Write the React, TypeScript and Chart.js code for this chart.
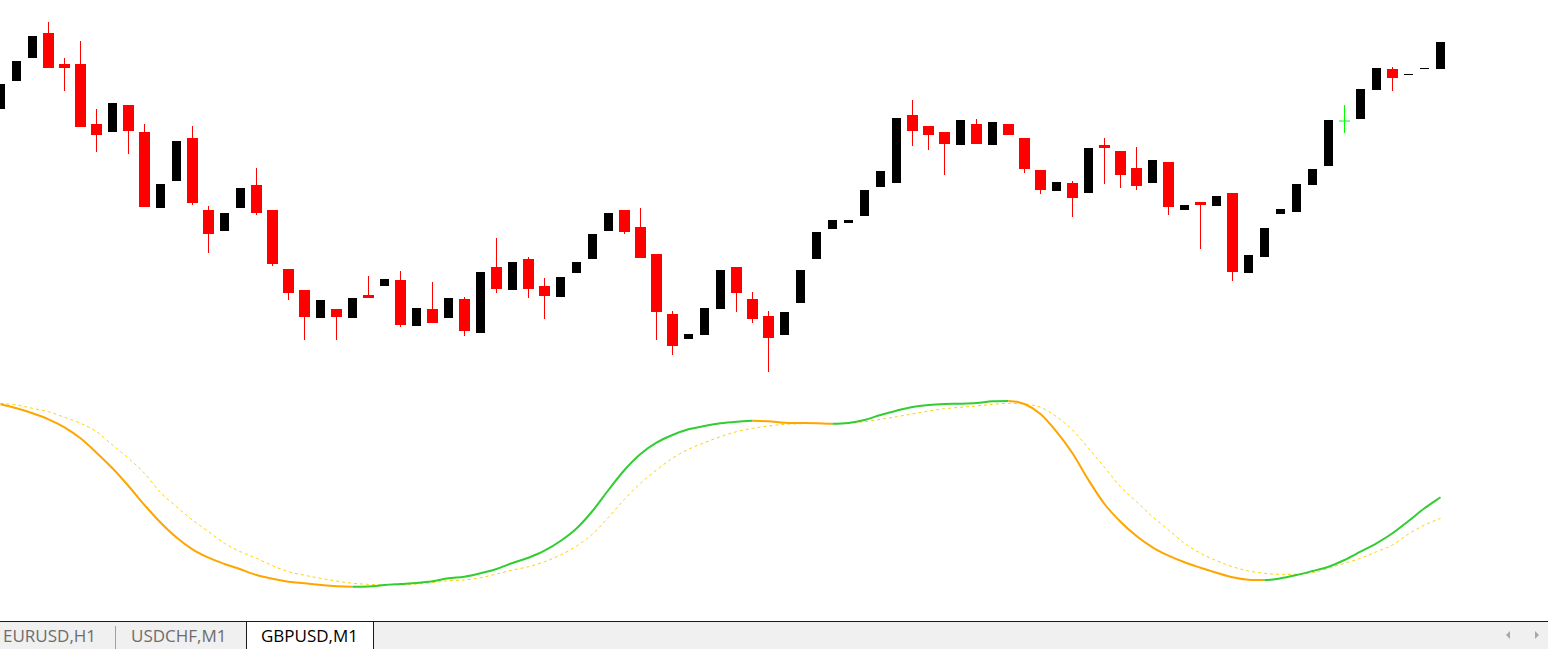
import React, { useEffect, useRef } from 'react';
import { Chart, registerables } from 'chart.js';

Chart.register(...registerables);

// GBPUSD, M1 — candle prices
const OPEN = [
  1.27891, 1.27919, 1.27942, 1.27967, 1.27936, 1.27936, 1.27876, 1.27868, 1.27895, 1.27868,
  1.27792, 1.27819, 1.27862, 1.27790, 1.27769, 1.27792, 1.27815, 1.27790, 1.27731, 1.27710,
  1.27682, 1.27691, 1.27682, 1.27705, 1.27714, 1.27720, 1.27674, 1.27691, 1.27682, 1.27701,
  1.27667, 1.27733, 1.27710, 1.27741, 1.27714, 1.27703, 1.27727, 1.27741, 1.27769, 1.27790,
  1.27773, 1.27746, 1.27686, 1.27661, 1.27665, 1.27691, 1.27733, 1.27701, 1.27684, 1.27665,
  1.27697, 1.27741, 1.27771, 1.27777, 1.27784, 1.27813, 1.27817, 1.27885, 1.27874, 1.27868,
  1.27855, 1.27876, 1.27855, 1.27876, 1.27862, 1.27830, 1.27809, 1.27817, 1.27807, 1.27855,
  1.27849, 1.27832, 1.27817, 1.27838, 1.27790, 1.27798, 1.27794, 1.27807, 1.27727, 1.27743,
  1.27786, 1.27788, 1.27815, 1.27834, 1.27879, 1.27881, 1.27910, 1.27931, 1.27925, 1.27931,
  1.27931,
];
const HIGH = [
  1.27916, 1.27939, 1.27964, 1.27978, 1.27942, 1.27959, 1.27891, 1.27897, 1.27895, 1.27876,
  1.27816, 1.27859, 1.27874, 1.27794, 1.27787, 1.27812, 1.27832, 1.27790, 1.27731, 1.27710,
  1.27700, 1.27691, 1.27702, 1.27724, 1.27721, 1.27729, 1.27692, 1.27718, 1.27702, 1.27703,
  1.27728, 1.27762, 1.27738, 1.27743, 1.27722, 1.27723, 1.27738, 1.27766, 1.27787, 1.27790,
  1.27792, 1.27746, 1.27689, 1.27666, 1.27692, 1.27730, 1.27733, 1.27708, 1.27689, 1.27688,
  1.27730, 1.27768, 1.27780, 1.27780, 1.27810, 1.27829, 1.27882, 1.27900, 1.27874, 1.27868,
  1.27880, 1.27881, 1.27878, 1.27876, 1.27862, 1.27830, 1.27818, 1.27819, 1.27852, 1.27862,
  1.27849, 1.27853, 1.27840, 1.27838, 1.27795, 1.27798, 1.27804, 1.27807, 1.27745, 1.27772,
  1.27791, 1.27816, 1.27831, 1.27880, 1.27895, 1.27911, 1.27932, 1.27933, 1.27926, 1.27932,
  1.27958,
];
const LOW = [
  1.27891, 1.27919, 1.27942, 1.27932, 1.27909, 1.27873, 1.27848, 1.27868, 1.27846, 1.27793,
  1.27792, 1.27819, 1.27795, 1.27747, 1.27769, 1.27792, 1.27785, 1.27734, 1.27700, 1.27660,
  1.27682, 1.27660, 1.27682, 1.27702, 1.27714, 1.27673, 1.27674, 1.27677, 1.27682, 1.27664,
  1.27667, 1.27707, 1.27710, 1.27702, 1.27681, 1.27703, 1.27727, 1.27741, 1.27769, 1.27766,
  1.27742, 1.27660, 1.27645, 1.27661, 1.27665, 1.27691, 1.27688, 1.27677, 1.27628, 1.27665,
  1.27697, 1.27741, 1.27771, 1.27777, 1.27784, 1.27813, 1.27817, 1.27854, 1.27850, 1.27825,
  1.27855, 1.27856, 1.27855, 1.27865, 1.27827, 1.27806, 1.27809, 1.27783, 1.27807, 1.27816,
  1.27812, 1.27810, 1.27817, 1.27785, 1.27790, 1.27751, 1.27794, 1.27719, 1.27727, 1.27743,
  1.27786, 1.27788, 1.27815, 1.27834, 1.27867, 1.27881, 1.27910, 1.27909, 1.27925, 1.27931,
  1.27931,
];
const CLOSE = [
  1.27916, 1.27939, 1.27964, 1.27932, 1.27932, 1.27873, 1.27865, 1.27897, 1.27869, 1.27793,
  1.27816, 1.27859, 1.27797, 1.27766, 1.27787, 1.27812, 1.27787, 1.27736, 1.27707, 1.27683,
  1.27700, 1.27683, 1.27702, 1.27702, 1.27721, 1.27675, 1.27692, 1.27677, 1.27702, 1.27669,
  1.27728, 1.27711, 1.27738, 1.27711, 1.27704, 1.27723, 1.27738, 1.27766, 1.27787, 1.27768,
  1.27742, 1.27688, 1.27654, 1.27666, 1.27692, 1.27730, 1.27707, 1.27681, 1.27662, 1.27688,
  1.27730, 1.27768, 1.27780, 1.27780, 1.27810, 1.27829, 1.27882, 1.27869, 1.27865, 1.27856,
  1.27880, 1.27856, 1.27878, 1.27865, 1.27831, 1.27810, 1.27818, 1.27802, 1.27852, 1.27852,
  1.27825, 1.27814, 1.27840, 1.27793, 1.27795, 1.27795, 1.27804, 1.27728, 1.27745, 1.27772,
  1.27791, 1.27816, 1.27831, 1.27880, 1.27879, 1.27911, 1.27932, 1.27922, 1.27926, 1.27932,
  1.27958,
];

// Oscillator panel: main line and its signal line
const MAIN = [
  195.7, 191.7, 186.7, 180.7, 172.7, 161.7, 147.3, 131.7, 114, 95,
  77.5, 62.5, 50.7, 42.3, 36, 30.7, 25, 21.3, 18.3, 16.7,
  15, 13.7, 13.3, 13.5, 15, 16, 17, 18.7, 21.7, 23.3,
  26.7, 31, 37, 42.3, 49.3, 59, 71.5, 89, 110, 130,
  146, 157.3, 165, 170.7, 174, 176.7, 178.3, 179.3, 178.7, 177.3,
  177, 176.7, 176.3, 177, 180, 185, 189.3, 193, 195, 196,
  196.3, 197, 198.7, 199, 196, 186, 168.3, 146.7, 120, 96,
  78.3, 64, 52.7, 44.3, 37.7, 32.3, 27.3, 22.7, 20.3, 20,
  21.7, 25, 29, 33.3, 40, 48.3, 56.7, 66.7, 79, 91.7,
  102.7,
];
const SIGNAL = [
  196.7, 195, 191.7, 188.3, 182.7, 176.7, 168.3, 155, 141.7, 126.7,
  107.5, 93.3, 80, 68.3, 56.7, 48.3, 41.7, 34.3, 28.3, 24.7,
  21.7, 19, 16.7, 15.7, 15, 15.3, 16, 17.3, 19.3, 20,
  22.3, 26, 30, 33.3, 38.3, 45, 54, 66, 82.7, 100.7,
  116.7, 130, 141.7, 150.7, 157.3, 163.3, 168.3, 171.7, 174, 175.7,
  176.3, 176.7, 176.3, 176.7, 178.3, 180.7, 183.3, 186, 189, 191.3,
  192.7, 194, 195.7, 196.7, 196, 192.7, 183.3, 170, 151.7, 132.7,
  113.3, 98.3, 83.3, 70, 56.7, 46.7, 39.3, 33.3, 29, 26.7,
  25.7, 25.7, 27.3, 31.7, 36.7, 41.7, 48.3, 55, 66, 75,
  81.7,
];

const TABS = ['EURUSD,H1', 'USDCHF,M1', 'GBPUSD,M1'];
const ACTIVE_TAB = 2;

// view ranges
const X_MIN = -0.03125;
const X_MAX = 96.71875;
const PRICE_MIN = 1.27379;
const PRICE_MAX = 1.28;
const OSC_MIN = -21;
const OSC_MAX = 600;

const W = 1548;
const CH = 621;

export default function App() {
  const ref = useRef<HTMLCanvasElement | null>(null);

  useEffect(() => {
    if (!ref.current) return;
    const idx = OPEN.map((_, i) => i);
    const bull = idx.filter((i) => CLOSE[i] > OPEN[i]);
    const bear = idx.filter((i) => CLOSE[i] < OPEN[i]);
    const doji = idx.filter((i) => CLOSE[i] === OPEN[i]);

    const barBase = {
      type: 'bar' as const,
      grouped: false,
      borderWidth: 0,
      inflateAmount: 0,
      xAxisID: 'x',
      yAxisID: 'yp',
    };

    const chart = new Chart(ref.current, {
      type: 'bar',
      data: {
        datasets: [
          {
            ...barBase,
            label: 'bear wick',
            data: bear.map((i) => ({ x: i, y: [LOW[i], HIGH[i]] })),
            backgroundColor: '#FF0000',
            barThickness: 1,
          },
          {
            ...barBase,
            label: 'bear body',
            data: bear.map((i) => ({ x: i, y: [CLOSE[i], OPEN[i]] })),
            backgroundColor: '#FF0000',
            barThickness: 11,
          },
          {
            ...barBase,
            label: 'bull body',
            data: bull.map((i) => ({ x: i, y: [OPEN[i], CLOSE[i]] })),
            backgroundColor: '#000000',
            barThickness: 9,
          },
          {
            ...barBase,
            label: 'doji wick',
            data: doji.map((i) => ({ x: i, y: [LOW[i], HIGH[i]] })),
            backgroundColor: '#00FF00',
            barThickness: 1,
          },
          {
            type: 'scatter' as const,
            label: 'doji',
            data: doji.map((i) => ({ x: i, y: CLOSE[i] })),
            xAxisID: 'x',
            yAxisID: 'yp',
            pointStyle: 'line',
            pointRadius: 5.5,
            pointBorderWidth: 1,
            pointBorderColor: '#00FF00',
            pointBackgroundColor: '#00FF00',
            showLine: false,
          },
          {
            type: 'line' as const,
            label: 'main',
            data: MAIN.map((v, i) => ({ x: i, y: v })),
            xAxisID: 'x',
            yAxisID: 'yi',
            borderColor: '#FFA500',
            borderWidth: 2,
            pointRadius: 0,
            fill: false,
            cubicInterpolationMode: 'monotone',
            segment: {
              borderColor: (ctx: any) =>
                ctx.p1.parsed.y > ctx.p0.parsed.y ? '#32CD32' : '#FFA500',
            },
          },
          {
            type: 'line' as const,
            label: 'signal',
            data: SIGNAL.map((v, i) => ({ x: i, y: v })),
            xAxisID: 'x',
            yAxisID: 'yi',
            borderColor: '#FFD000',
            borderWidth: 1,
            borderDash: [3, 3],
            pointRadius: 0,
            fill: false,
            cubicInterpolationMode: 'monotone',
          },
        ] as any,
      },
      options: {
        responsive: false,
        animation: false,
        events: [],
        layout: { padding: 0, autoPadding: false },
        plugins: {
          legend: { display: false },
          tooltip: { enabled: false },
          title: { display: false },
        },
        scales: {
          x: { type: 'linear', min: X_MIN, max: X_MAX, display: false, offset: false },
          yp: { type: 'linear', min: PRICE_MIN, max: PRICE_MAX, display: false },
          yi: { type: 'linear', min: OSC_MIN, max: OSC_MAX, display: false },
        },
      } as any,
    });
    return () => chart.destroy();
  }, []);

  const tabFont = '"Open Sans", "Noto Sans", sans-serif';
  const tabLefts = [3, 131, 261];

  return (
    <div
      style={{
        position: 'fixed',
        left: 0,
        top: 0,
        width: W,
        height: 649,
        background: '#ffffff',
        overflow: 'hidden',
      }}
    >
      <canvas
        ref={ref}
        width={W}
        height={CH}
        style={{ display: 'block', width: W, height: CH }}
      />
      <div style={{ position: 'absolute', left: 0, top: 621, width: W, height: 1, background: '#1a1a1a' }} />
      <div style={{ position: 'absolute', left: 0, top: 622, width: W, height: 27, background: '#f0f0f0' }} />
      {/* separator between inactive tabs */}
      <div style={{ position: 'absolute', left: 115, top: 626, width: 1, height: 23, background: '#a0a0a0' }} />
      {/* active tab */}
      <div
        style={{
          position: 'absolute',
          left: 246,
          top: 621,
          width: 126,
          height: 28,
          background: '#ffffff',
          borderLeft: '1px solid #1a1a1a',
          borderRight: '1px solid #1a1a1a',
          borderTop: '1px solid #1a1a1a',
        }}
      />
      {TABS.map((t, i) => (
        <div
          key={t}
          style={{
            position: 'absolute',
            left: tabLefts[i],
            top: 622,
            height: 27,
            lineHeight: '27px',
            fontFamily: tabFont,
            fontSize: 17,
            color: i === ACTIVE_TAB ? '#000000' : '#6d6d6d',
            whiteSpace: 'nowrap',
          }}
        >
          {t}
        </div>
      ))}
      {/* scroll arrows */}
      <div
        style={{
          position: 'absolute',
          left: 1506,
          top: 631,
          width: 0,
          height: 0,
          borderTop: '4px solid transparent',
          borderBottom: '4px solid transparent',
          borderRight: '4px solid #a8a8a8',
        }}
      />
      <div
        style={{
          position: 'absolute',
          left: 1535,
          top: 631,
          width: 0,
          height: 0,
          borderTop: '4px solid transparent',
          borderBottom: '4px solid transparent',
          borderLeft: '4px solid #a8a8a8',
        }}
      />
    </div>
  );
}
